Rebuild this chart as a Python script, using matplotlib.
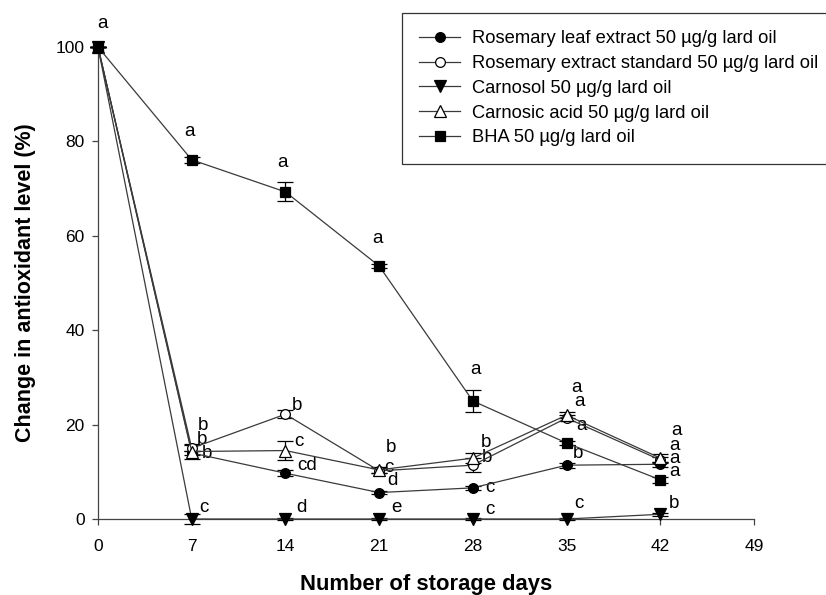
import numpy as np
import matplotlib.pyplot as plt

plt.rcParams['font.family'] = ['Liberation Sans', 'DejaVu Sans']

# storage days
days = [0, 7, 14, 21, 28, 35, 42]

# change in antioxidant level (%)
leaf = [100, 14.0, 9.7, 5.6, 6.6, 11.4, 11.6]
standard = [100, 15.0, 22.2, 10.2, 11.4, 21.4, 12.5]
carnosol = [100, 0.0, 0.0, 0.0, 0.0, 0.0, 1.0]
carnosic = [100, 14.3, 14.5, 10.4, 12.9, 22.0, 12.9]
bha = [100, 76.1, 69.3, 53.6, 25.0, 16.1, 8.3]

# error bars (SD)
leaf_err = [0, 0.4, 0.6, 0.4, 0.4, 0.5, 0.5]
standard_err = [0, 0.6, 0.8, 0.5, 1.5, 0.6, 0.6]
carnosol_err = [0, 1.0, 0.2, 0.2, 0.2, 0.2, 0.3]
carnosic_err = [0, 1.5, 2.1, 0.6, 1.0, 0.6, 0.8]
bha_err = [0, 0.6, 2.0, 0.5, 2.4, 0.5, 0.6]

# significance letters
leaf_sig = ['', 'b', 'cd', 'd', 'c', 'b', 'a']
standard_sig = ['', 'b', 'b', 'b', 'b', 'a', 'a']
carnosol_sig = ['', 'c', 'd', 'e', 'c', 'c', 'b']
carnosic_sig = ['', 'b', 'c', 'c', 'b', 'a', 'a']
bha_sig = ['a', 'a', 'a', 'a', 'a', 'a', 'a']

labels = [
    'Rosemary leaf extract 50 \u00b5g/g lard oil',
    'Rosemary extract standard 50 \u00b5g/g lard oil',
    'Carnosol 50 \u00b5g/g lard oil',
    'Carnosic acid 50 \u00b5g/g lard oil',
    'BHA 50 \u00b5g/g lard oil',
]

# letter offsets in pixels (dx, dy) from each point
leaf_off = [(0, 0), (15, -1), (22, 8), (13, 12), (17, 0), (11, 12), (14, 6)]
standard_off = [(0, 0), (11, 23), (12, 9), (12, 23), (14, 8), (13, 16), (14, 15)]
carnosol_off = [(0, 0), (12, 12), (16, 12), (17, 11), (17, 9), (12, 16), (14, 11)]
carnosic_off = [(0, 0), (10, 12), (14, 9), (10, 2), (13, 16), (10, 28), (16, 28)]
bha_off = [(5, 24), (-2, 28), (-3, 29), (-2, 28), (3, 31), (15, 18), (14, 8)]

fig = plt.figure(figsize=(8.26, 5.95), dpi=100)
ax = fig.add_axes([98 / 826, 1 - 519 / 595, (754 - 98) / 826, (519 - 47) / 595])

series = [
    (leaf, leaf_err, leaf_sig, leaf_off, 'o', 'black', 7),
    (standard, standard_err, standard_sig, standard_off, 'o', 'white', 7),
    (carnosol, carnosol_err, carnosol_sig, carnosol_off, 'v', 'black', 8),
    (carnosic, carnosic_err, carnosic_sig, carnosic_off, '^', 'white', 8),
    (bha, bha_err, bha_sig, bha_off, 's', 'black', 7),
]

handles = []
for (vals, err, sig, off, mk, fc, ms), lab in zip(series, labels):
    eb = ax.errorbar(days, vals, yerr=err, color='#3a3a3a', lw=0.9,
                     marker=mk, ms=ms, mfc=fc, mec='black', mew=0.9,
                     ecolor='black', elinewidth=0.9, capsize=6, capthick=0.9,
                     label=lab, clip_on=False, zorder=3)
    for artist in list(eb.lines[1]) + list(eb.lines[2]):
        artist.set_clip_on(False)
    handles.append(eb.lines[0])
    for d, v, s, (dx, dy) in zip(days, vals, sig, off):
        if s:
            ax.annotate(s, (d, v), xytext=(dx, dy), textcoords='offset pixels',
                        ha='center', va='center', fontsize=13.5)

ax.set_xlim(0, 49)
ax.set_ylim(0, 100)
ax.set_xticks(range(0, 50, 7))
ax.set_yticks(range(0, 101, 20))
ax.tick_params(direction='out', length=4.5, width=0.9, color='#444444',
               labelsize=12.5)
ax.tick_params(axis='x', pad=10)
ax.tick_params(axis='y', pad=5)
for side in ['top', 'right']:
    ax.spines[side].set_visible(False)
for side in ['left', 'bottom']:
    ax.spines[side].set_color('#444444')
    ax.spines[side].set_linewidth(0.9)

ax.set_xlabel('Number of storage days', fontsize=15.8, fontweight='bold', labelpad=14)
ax.set_ylabel('Change in antioxidant level (%)', fontsize=15.5, fontweight='bold', labelpad=14)

leg = fig.legend(handles, labels, loc='upper left',
                 bbox_to_anchor=(402 / 826, 1 - 13 / 595), bbox_transform=fig.transFigure,
                 fontsize=13.2, frameon=True, fancybox=False, framealpha=1,
                 edgecolor='#333333', handlelength=2.2, handletextpad=0.65,
                 labelspacing=0.42, borderpad=0.95, borderaxespad=0)
leg.get_frame().set_linewidth(0.9)

fig.savefig('out.png', dpi=100)
